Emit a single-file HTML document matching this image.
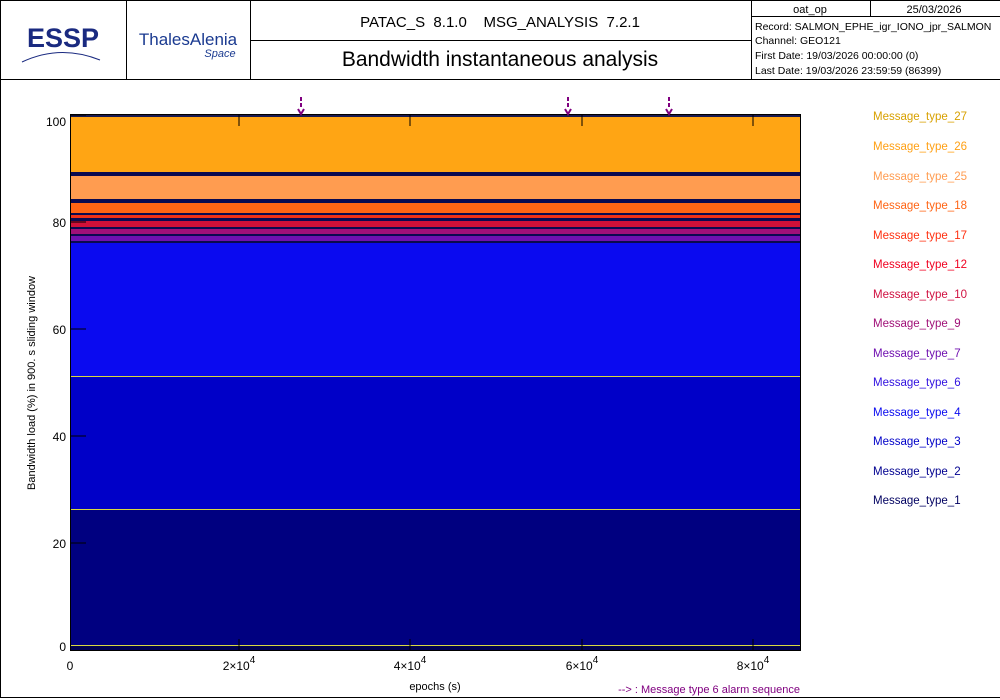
<!DOCTYPE html>
<html><head><meta charset="utf-8"><style>
html,body{margin:0;padding:0;background:#fff;width:1000px;height:700px;overflow:hidden}
text{font-family:"Liberation Sans",sans-serif}
</style></head><body>
<svg width="1000" height="700" viewBox="0 0 1000 700" xmlns="http://www.w3.org/2000/svg">
<g stroke="#000" stroke-width="1" fill="none">
<rect x="0.5" y="0.5" width="1005" height="697"/>
<line x1="0" y1="79.5" x2="1000" y2="79.5"/>
<line x1="126.5" y1="0" x2="126.5" y2="79"/>
<line x1="250.5" y1="0" x2="250.5" y2="79"/>
<line x1="751.5" y1="0" x2="751.5" y2="79"/>
<line x1="250" y1="40.5" x2="751" y2="40.5"/>
<line x1="751" y1="16.5" x2="1000" y2="16.5"/>
<line x1="870.5" y1="0" x2="870.5" y2="16"/>
</g>
<text x="63" y="47" text-anchor="middle" font-size="27" font-weight="bold" fill="#1a2a80">ESSP</text>
<path d="M22 62 Q60 44 100 60" stroke="#1a2a80" fill="none" stroke-width="1"/>
<text x="188" y="45" text-anchor="middle" font-size="17" fill="#1a3a90">ThalesAlenia</text>
<text x="220" y="57" text-anchor="middle" font-size="11" font-style="italic" fill="#1a3a90">Space</text>
<text x="500" y="27" text-anchor="middle" font-size="15">PATAC_S&#160;&#160;8.1.0&#160;&#160;&#160;&#160;MSG_ANALYSIS&#160;&#160;7.2.1</text>
<text x="500" y="66" text-anchor="middle" font-size="21">Bandwidth instantaneous analysis</text>
<text x="810" y="13" text-anchor="middle" font-size="11">oat_op</text>
<text x="934" y="13" text-anchor="middle" font-size="11">25/03/2026</text>
<text x="755" y="30" font-size="10.5">Record: SALMON_EPHE_igr_IONO_jpr_SALMON</text>
<text x="755" y="44" font-size="10.5">Channel: GEO121</text>
<text x="755" y="59" font-size="10.5">First Date: 19/03/2026 00:00:00 (0)</text>
<text x="755" y="74" font-size="10.5">Last Date: 19/03/2026 23:59:59 (86399)</text>

<rect x="70" y="114" width="731" height="537" fill="#000050"/>
<rect x="70" y="114" width="731" height="3" fill="#1a1a50"/>
<rect x="70" y="117" width="731" height="55" fill="#ffa514"/>
<rect x="70" y="172" width="731" height="4" fill="#0a0a50"/>
<rect x="70" y="176" width="731" height="23" fill="#ff9c50"/>
<rect x="70" y="199" width="731" height="4" fill="#0a0a50"/>
<rect x="70" y="203" width="731" height="10" fill="#ff6414"/>
<rect x="70" y="213" width="731" height="2" fill="#0a0a50"/>
<rect x="70" y="215" width="731" height="3" fill="#f03018"/>
<rect x="70" y="218" width="731" height="3" fill="#0a0a50"/>
<rect x="70" y="221" width="731" height="6" fill="#d01038"/>
<rect x="70" y="227" width="731" height="2" fill="#0a0a50"/>
<rect x="70" y="229" width="731" height="5" fill="#a01078"/>
<rect x="70" y="234" width="731" height="2" fill="#0a0a50"/>
<rect x="70" y="236" width="731" height="5" fill="#7010b0"/>
<rect x="70" y="241" width="731" height="2" fill="#0a0a50"/>
<rect x="70" y="243" width="731" height="133" fill="#0a0af0"/>
<rect x="70" y="376" width="731" height="133" fill="#0000c8"/>
<rect x="70" y="509" width="731" height="136" fill="#000080"/>
<g stroke="#d8d840" stroke-width="1">
<line x1="70" y1="376.5" x2="801" y2="376.5"/>
<line x1="70" y1="509.5" x2="801" y2="509.5"/>
<line x1="70" y1="645.5" x2="801" y2="645.5"/>
</g>
<rect x="70.5" y="114.5" width="730" height="536" fill="none" stroke="#000"/>
<g stroke="#000">
<line x1="70" y1="115" x2="86" y2="115"/><line x1="70" y1="222" x2="86" y2="222"/><line x1="70" y1="329" x2="86" y2="329"/><line x1="70" y1="436" x2="86" y2="436"/><line x1="70" y1="543" x2="86" y2="543"/>
<line x1="239" y1="651" x2="239" y2="639"/><line x1="410" y1="651" x2="410" y2="639"/><line x1="582" y1="651" x2="582" y2="639"/><line x1="753" y1="651" x2="753" y2="639"/>
<line x1="239" y1="114" x2="239" y2="126"/><line x1="410" y1="114" x2="410" y2="126"/><line x1="582" y1="114" x2="582" y2="126"/><line x1="753" y1="114" x2="753" y2="126"/>
</g>
<g font-size="12" text-anchor="end">
<text x="66" y="126">100</text><text x="66" y="227">80</text><text x="66" y="334">60</text><text x="66" y="441">40</text><text x="66" y="548">20</text><text x="66" y="651">0</text>
</g>
<g font-size="12" text-anchor="middle">
<text x="70" y="670">0</text>
<text x="239" y="670">2×10<tspan dy="-7" font-size="10">4</tspan></text>
<text x="410" y="670">4×10<tspan dy="-7" font-size="10">4</tspan></text>
<text x="582" y="670">6×10<tspan dy="-7" font-size="10">4</tspan></text>
<text x="753" y="670">8×10<tspan dy="-7" font-size="10">4</tspan></text>
</g>
<text x="435" y="690" text-anchor="middle" font-size="11">epochs (s)</text>
<text transform="translate(35,383) rotate(-90)" text-anchor="middle" font-size="11">Bandwidth load (%) in 900. s sliding window</text>
<text x="800" y="693" text-anchor="end" font-size="11" fill="#800080">--&gt; : Message type  6 alarm sequence</text>
<g stroke="#800080" stroke-width="2" fill="none">
<path d="M301 97v4M301 103v4M298 109l3 5 3-5"/>
<path d="M568 97v4M568 103v4M565 109l3 5 3-5"/>
<path d="M669 97v4M669 103v4M666 109l3 5 3-5"/>
</g>
<g font-size="11.5">
<text x="873" y="120" fill="#d8a000">Message_type_27</text>
<text x="873" y="150" fill="#ffa014">Message_type_26</text>
<text x="873" y="180" fill="#ff9c50">Message_type_25</text>
<text x="873" y="209" fill="#ff6414">Message_type_18</text>
<text x="873" y="239" fill="#ff3010">Message_type_17</text>
<text x="873" y="268" fill="#f00020">Message_type_12</text>
<text x="873" y="298" fill="#d01040">Message_type_10</text>
<text x="873" y="327" fill="#a01078">Message_type_9</text>
<text x="873" y="357" fill="#7010b0">Message_type_7</text>
<text x="873" y="386" fill="#3010e0">Message_type_6</text>
<text x="873" y="416" fill="#0a0af0">Message_type_4</text>
<text x="873" y="445" fill="#0000c8">Message_type_3</text>
<text x="873" y="475" fill="#000090">Message_type_2</text>
<text x="873" y="504" fill="#000060">Message_type_1</text>
</g>
</svg>
</body></html>
